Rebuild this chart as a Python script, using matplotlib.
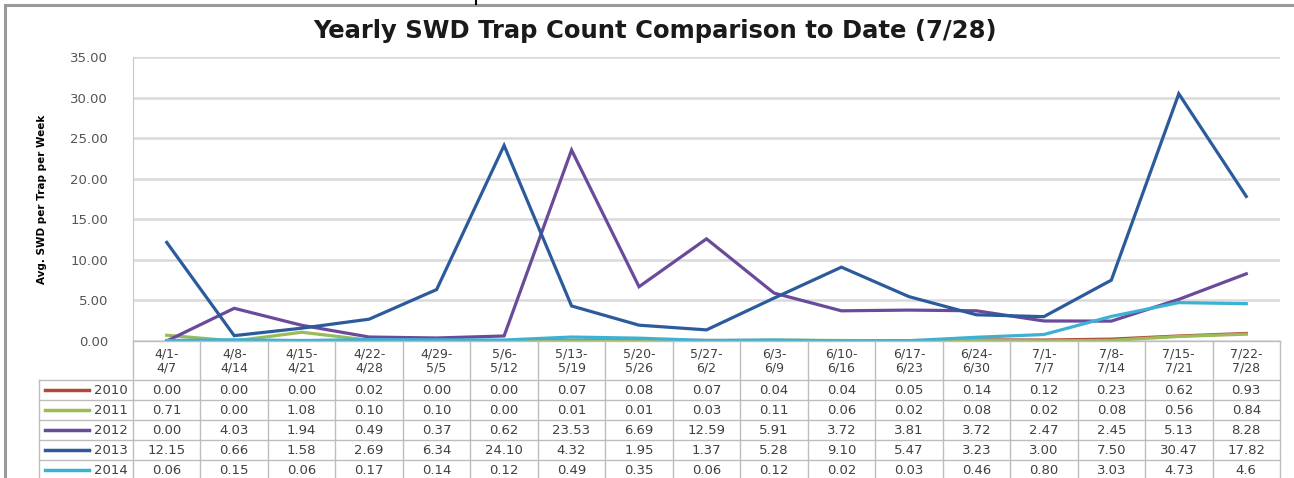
import matplotlib
matplotlib.use("Agg")
import matplotlib.pyplot as plt
from matplotlib.lines import Line2D

# week ranges (table header)
weeks = ["4/1-\n4/7", "4/8-\n4/14", "4/15-\n4/21", "4/22-\n4/28", "4/29-\n5/5",
         "5/6-\n5/12", "5/13-\n5/19", "5/20-\n5/26", "5/27-\n6/2", "6/3-\n6/9",
         "6/10-\n6/16", "6/17-\n6/23", "6/24-\n6/30", "7/1-\n7/7", "7/8-\n7/14",
         "7/15-\n7/21", "7/22-\n7/28"]

years = ["2010", "2011", "2012", "2013", "2014"]

# values as printed in the data table
y2010 = ["0.00", "0.00", "0.00", "0.02", "0.00", "0.00", "0.07", "0.08", "0.07",
         "0.04", "0.04", "0.05", "0.14", "0.12", "0.23", "0.62", "0.93"]
y2011 = ["0.71", "0.00", "1.08", "0.10", "0.10", "0.00", "0.01", "0.01", "0.03",
         "0.11", "0.06", "0.02", "0.08", "0.02", "0.08", "0.56", "0.84"]
y2012 = ["0.00", "4.03", "1.94", "0.49", "0.37", "0.62", "23.53", "6.69", "12.59",
         "5.91", "3.72", "3.81", "3.72", "2.47", "2.45", "5.13", "8.28"]
y2013 = ["12.15", "0.66", "1.58", "2.69", "6.34", "24.10", "4.32", "1.95", "1.37",
         "5.28", "9.10", "5.47", "3.23", "3.00", "7.50", "30.47", "17.82"]
y2014 = ["0.06", "0.15", "0.06", "0.17", "0.14", "0.12", "0.49", "0.35", "0.06",
         "0.12", "0.02", "0.03", "0.46", "0.80", "3.03", "4.73", "4.6"]

series = [y2010, y2011, y2012, y2013, y2014]
colors = ["#B04A3C", "#9BBB59", "#6A4A9A", "#2C5B9C", "#3DB1D3"]

W, H = 1294, 478
fig = plt.figure(figsize=(W / 100, H / 100), dpi=100)
fig.patch.set_facecolor("white")

# pixel helpers for placing the two axes
L, R, T, B = 133, 1280, 57, 341
ax = fig.add_axes([L / W, (H - B) / H, (R - L) / W, (B - T) / H])
x = list(range(len(weeks)))
for vals, c in zip(series, colors):
    ax.plot(x, [float(v) for v in vals], color=c, lw=2.3, solid_joinstyle="miter")

ax.set_xlim(-0.5, len(weeks) - 0.5)
ax.set_ylim(0, 35)
ax.set_yticks(range(0, 36, 5))
ax.set_yticklabels([f"{v:.2f}" for v in range(0, 36, 5)], color="#555555", fontsize=9.5)
ax.tick_params(axis="y", length=0, pad=18)
ax.set_xticks([])
ax.grid(axis="y", color="#D9D9D9", lw=1.8)
ax.set_axisbelow(True)
for s in ["top", "right", "bottom"]:
    ax.spines[s].set_visible(False)
ax.spines["left"].set_color("#C8C8C8")

ax.set_ylabel("Avg. SWD per Trap per Week", fontsize=7.5, fontweight="bold",
              family=["Liberation Sans Narrow", "DejaVu Sans"])
ax.yaxis.set_label_coords(-0.075, 0.5)

fig.text(655 / W, 1 - 31 / H, "Yearly SWD Trap Count Comparison to Date (7/28)",
         ha="center", va="center", fontsize=17.5, fontweight="bold", color="#1a1a1a")

# data table under the chart, sharing the x scale
tb = fig.add_axes([L / W, (H - 481) / H, (R - L) / W, 140 / H], sharex=ax)
tb.set_ylim(140, 0)
tb.axis("off")
unit = (R - L) / len(weeks)
left_edge = -0.5 - (L - 39) / unit
grid_c = "#BDBDBD"
n = len(weeks)
for k in range(n + 1):
    tb.plot([k - 0.5, k - 0.5], [0, 140], color=grid_c, lw=1, clip_on=False)
tb.plot([left_edge, left_edge], [39, 140], color=grid_c, lw=1, clip_on=False)
tb.plot([-0.5, n - 0.5], [0, 0], color=grid_c, lw=1, clip_on=False)
for r in range(5):
    yy = 39 + 20 * r
    tb.plot([left_edge, n - 0.5], [yy, yy], color=grid_c, lw=1, clip_on=False)

txt_c = "#404040"
for i, w in enumerate(weeks):
    tb.text(i, 20, w, ha="center", va="center", fontsize=9, color=txt_c,
            linespacing=1.05, clip_on=False)

for r, (yr, vals, c) in enumerate(zip(years, series, colors)):
    yc = 49 + 20 * r
    tb.plot([left_edge + 6 / unit, left_edge + 50 / unit], [yc, yc], color=c, lw=2.5,
            clip_on=False)
    tb.text(-0.5 - 5 / unit, yc, yr, ha="right", va="center", fontsize=9.5,
            color=txt_c, clip_on=False)
    for i, v in enumerate(vals):
        tb.text(i, yc, v, ha="center", va="center", fontsize=9.5, color=txt_c,
                clip_on=False)

# outer frame (top and left edges) and the small mark at the top
fig.add_artist(Line2D([5 / W, 1], [1 - 5 / H, 1 - 5 / H], color="#9A9A9A", lw=2.2))
fig.add_artist(Line2D([5 / W, 5 / W], [0, 1 - 5 / H], color="#9A9A9A", lw=2.2))
fig.add_artist(Line2D([476 / W, 476 / W], [1, 1 - 4 / H], color="black", lw=1.5))

fig.savefig("out.png", dpi=100)
